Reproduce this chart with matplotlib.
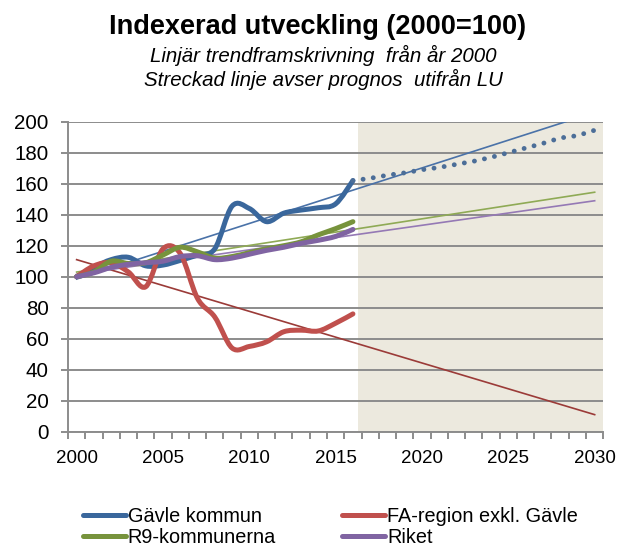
import numpy as np
import matplotlib
matplotlib.use("Agg")
import matplotlib.pyplot as plt
from matplotlib.path import Path
from matplotlib.patches import PathPatch
from matplotlib.lines import Line2D

plt.rcParams['font.family'] = ['Liberation Sans', 'DejaVu Sans']

# ---------------- data ----------------
years = list(range(2000, 2017))
gavle = [100, 106, 111, 112.5, 107, 107.5, 110.5, 114, 118, 145.5, 144, 135.5, 141, 143, 144.5, 147, 162]
fa_region = [100, 107, 109, 103, 93.5, 118, 115, 86, 74, 54, 55, 58, 64.5, 65.5, 65, 70, 76]
r9 = [100, 103, 110, 108.5, 109, 114, 119, 116, 112, 113, 115.5, 118, 120, 122.5, 127, 131, 135.5]
riket = [100, 102.5, 106, 108, 109, 110, 113, 113.5, 111, 112, 114.5, 117, 119, 121.5, 123.5, 126, 130.5]

forecast_years = list(range(2016, 2031))
gavle_forecast = [162, 163.5, 165.5, 167, 169, 170.5, 172.5, 174.5, 177, 180, 183, 186, 189.5, 191, 194.5]

# linear trend lines (value at 2000 and at 2030)
trend_years = [2000, 2030]
gavle_trend = [98.5, 206]
fa_trend = [111, 11]
r9_trend = [103, 154.5]
riket_trend = [101.5, 149]

labels = ["Gävle kommun", "FA-region exkl. Gävle", "R9-kommunerna", "Riket"]
x_tick_labels = ["2000", "2005", "2010", "2015", "2020", "2025", "2030"]
y_ticks = [0, 20, 40, 60, 80, 100, 120, 140, 160, 180, 200]
forecast_shade_start = 2016.3

# ---------------- style ----------------
c_blue = '#3A679C'
c_red = '#C0504D'
c_green = '#77933C'
c_purple = '#8064A2'
c_grid = '#8C8C8C'


def smooth_path(x, y):
    """Excel-like smoothed line as cubic Bezier segments (Catmull-Rom control points)."""
    x = np.asarray(x, float)
    y = np.asarray(y, float)
    n = len(x)
    verts = [(x[0], y[0])]
    codes = [Path.MOVETO]
    for i in range(n - 1):
        p0 = np.array([x[max(i - 1, 0)], y[max(i - 1, 0)]])
        p1 = np.array([x[i], y[i]])
        p2 = np.array([x[i + 1], y[i + 1]])
        p3 = np.array([x[min(i + 2, n - 1)], y[min(i + 2, n - 1)]])
        c1 = p1 + (p2 - p0) / 6.0
        c2 = p2 - (p3 - p1) / 6.0
        verts += [tuple(c1), tuple(c2), tuple(p2)]
        codes += [Path.CURVE4] * 3
    return Path(verts, codes)


W, H = 619, 553
fig = plt.figure(figsize=(W / 100, H / 100), dpi=100)
ax_left, ax_right, ax_top, ax_bottom = 68, 603.3, 121.7, 431.7
ax = fig.add_axes([ax_left / W, 1 - ax_bottom / H, (ax_right - ax_left) / W, (ax_bottom - ax_top) / H])

ax.set_xlim(1999.5, 2030.5)
ax.set_ylim(0, 200)

# forecast shading
ax.axvspan(forecast_shade_start, 2030.5, color='#ECE9DE', zorder=0, lw=0)

# grid
ax.set_yticks(y_ticks)
ax.yaxis.grid(True, color=c_grid, lw=1.4, zorder=0.5)
ax.set_axisbelow(True)

# trend lines
ax.plot(trend_years, gavle_trend, color='#4A72A8', lw=1.2, zorder=2)
ax.plot(trend_years, fa_trend, color='#9B3B38', lw=1.2, zorder=2)
ax.plot(trend_years, r9_trend, color='#8FAA55', lw=1.2, zorder=2)
ax.plot(trend_years, riket_trend, color='#9579B5', lw=1.2, zorder=2)

# series (smoothed)
for vals, col in [(gavle, c_blue), (fa_region, c_red), (r9, c_green), (riket, c_purple)]:
    patch = PathPatch(smooth_path(years, vals), fill=False, edgecolor=col, lw=3.6,
                      capstyle='round', joinstyle='round', zorder=3)
    ax.add_patch(patch)

# forecast dotted
ax.plot(forecast_years, gavle_forecast, color='#4C6E98', lw=3.5,
        linestyle=(0, (0.01, 2.1)), dash_capstyle='round', zorder=3)

# axes styling
for s in ['top', 'right']:
    ax.spines[s].set_visible(False)
for s in ['left', 'bottom']:
    ax.spines[s].set_color(c_grid)
    ax.spines[s].set_linewidth(1.4)

ax.set_xticks([int(t) for t in x_tick_labels])
ax.set_xticklabels(x_tick_labels)
ax.set_xticks(np.arange(1999.5, 2031.0, 1.0), minor=True)
ax.tick_params(axis='x', which='major', length=0, labelsize=13.5, pad=13.5)
ax.tick_params(axis='x', which='minor', length=5, width=1.4, color=c_grid, direction='out')
ax.tick_params(axis='y', which='major', length=5, width=1.4, color=c_grid, direction='out',
               labelsize=14.8, pad=9)

# titles
fig.text(317.5 / W, 1 - 34 / H, "Indexerad utveckling (2000=100)", ha='center', va='baseline',
         fontsize=19.5, fontweight='bold')
fig.text(323 / W, 1 - 62 / H, "Linjär trendframskrivning  från år 2000", ha='center', va='baseline',
         fontsize=14.8, fontstyle='italic')
fig.text(323 / W, 1 - 85.5 / H, "Streckad linje avser prognos  utifrån LU", ha='center', va='baseline',
         fontsize=14.8, fontstyle='italic')

# legend
handles = [Line2D([], [], color=c, lw=3.6, solid_capstyle='round')
           for c in [c_blue, c_green, c_red, c_purple]]
leg_labels = [labels[0], labels[2], labels[1], labels[3]]
fig.legend(handles, leg_labels, ncol=2, loc='upper left',
           bbox_to_anchor=(83 / W, 1 - 507 / H), frameon=False, fontsize=14.3,
           handlelength=2.15, handletextpad=0.1, columnspacing=3.35, labelspacing=0.12,
           borderpad=0, borderaxespad=0)

fig.savefig("out.png", dpi=100)
